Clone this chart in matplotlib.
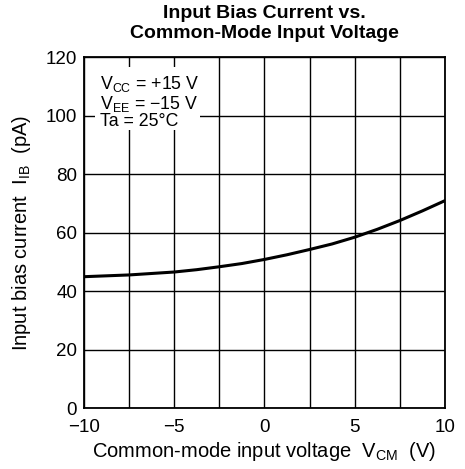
import matplotlib
matplotlib.use("Agg")
from matplotlib import pyplot as plt
from matplotlib.patches import Rectangle

plt.rcParams['font.family'] = ['Liberation Sans', 'DejaVu Sans']

# values
vcm = [-10, -8.75, -7.5, -6.25, -5, -3.75, -2.5, -1.25, 0,
       1.25, 2.5, 3.75, 5, 6.25, 7.5, 8.75, 10]
ib = [44.9, 45.2, 45.5, 46.0, 46.5, 47.3, 48.3, 49.4, 50.8,
      52.4, 54.2, 56.1, 58.4, 61.1, 64.1, 67.4, 70.9]

x_ticks = [-10, -5, 0, 5, 10]
x_labels = ['\u221210', '\u22125', '0', '5', '10']
y_ticks = [0, 20, 40, 60, 80, 100, 120]

fig = plt.figure(figsize=(4.65, 4.69), dpi=100)
ax = fig.add_axes([0.1806, 0.130, 0.7763, 0.7484])

ax.plot(vcm, ib, color='black', lw=2.2, zorder=4)

ax.set_xlim(-10, 10)
ax.set_ylim(0, 120)
ax.set_xticks(x_ticks)
ax.set_xticklabels(x_labels)
ax.set_yticks(y_ticks)
ax.set_xticks([-7.5, -2.5, 2.5, 7.5], minor=True)
ax.grid(True, which='both', color='black', lw=1.0, zorder=1)
ax.tick_params(which='both', length=0, labelsize=13.5)
ax.tick_params(axis='x', pad=8)
ax.tick_params(axis='y', pad=5)
for s in ax.spines.values():
    s.set_linewidth(1.3)

# conditions box (covers the grid)
ax.add_patch(Rectangle((-9.39, 95.0), 5.82, 21.6, facecolor='white',
                       edgecolor='none', zorder=2))
ax.text(-9.1, 114.2, '$\\mathregular{V_{CC}}$ = +15 V\n$\\mathregular{V_{EE}}$ = \u221215 V\nTa = 25\u00b0C',
        fontsize=12.8, va='top', ha='left', linespacing=0.97, zorder=3)

ax.set_xlabel('Common-mode input voltage  $\\mathregular{V_{CM}}$  (V)', fontsize=14.5, labelpad=3)
ax.set_ylabel('Input bias current  $\\mathregular{I_{IB}}$  (pA)', fontsize=14.5)
ax.yaxis.set_label_coords(-0.14, 0.50)
ax.set_title('Input Bias Current vs.\nCommon-Mode Input Voltage', fontsize=14,
             fontweight='bold', linespacing=1.28, pad=13.5)

fig.savefig('out.png', dpi=100, facecolor='white')
